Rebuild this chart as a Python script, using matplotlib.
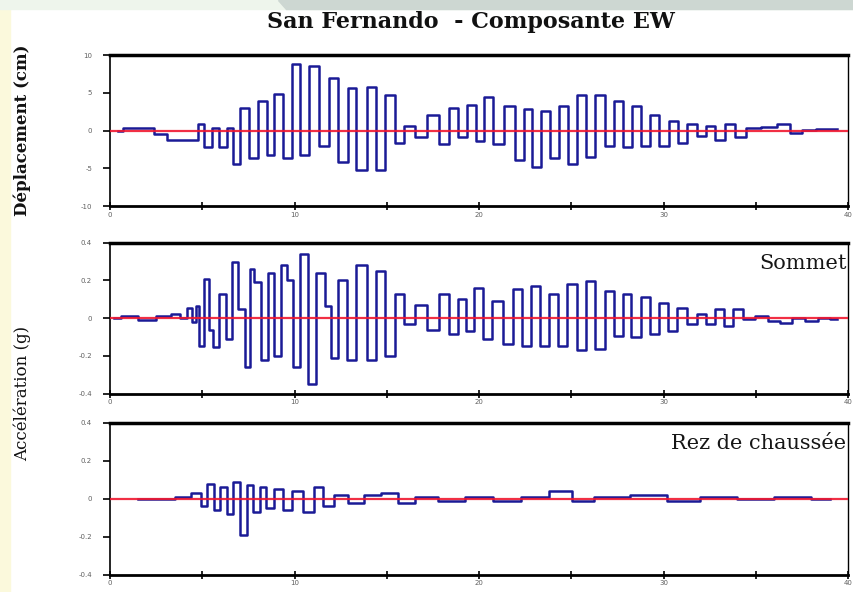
import matplotlib.pyplot as plt
from matplotlib.patches import Rectangle, Polygon

# San Fernando record, EW component: times (s) and values
t_disp = [0.4, 1.0, 2.0, 2.7, 3.5, 4.6, 4.9, 5.3, 5.7, 6.15, 6.5, 6.8, 7.3,
          7.75, 8.3, 8.7, 9.1, 9.6, 10.1, 10.5, 11.05, 11.6, 12.1, 12.65,
          13.1, 13.6, 14.2, 14.6, 15.15, 15.7, 16.2, 16.8, 17.6, 18.1, 18.6,
          19.1, 19.6, 20.05, 20.5, 21.0, 21.66, 22.2, 22.64, 23.1, 23.6,
          24.1, 24.6, 25.05, 25.6, 26.0, 26.6, 27.1, 27.5, 28.1, 28.5, 29.05,
          29.5, 30.0, 30.6, 31.0, 31.55, 32.1, 32.5, 33.1, 33.6, 34.1, 34.8,
          35.8, 36.5, 37.2, 37.8, 38.7, 39.4]
disp_cm = [0.0, 0.3, 0.3, -0.5, -1.2, -1.2, 0.8, -2.2, 0.4, -2.2, 0.4, -4.4,
           3.0, -3.7, 3.9, -3.3, 4.9, -3.7, 8.8, -3.3, 8.6, -2.0, 6.9, -4.2,
           5.6, -5.2, 5.8, -5.2, 4.7, -1.6, 0.6, -0.9, 2.1, -1.8, 3.0, -0.9,
           3.4, -1.4, 4.5, -1.8, 3.2, -3.9, 2.8, -4.8, 2.6, -3.7, 3.2, -4.4,
           4.7, -3.5, 4.7, -2.0, 3.9, -2.2, 3.2, -2.0, 2.1, -2.0, 1.3, -1.6,
           0.8, -0.7, 0.6, -1.3, 0.8, -0.9, 0.4, 0.5, 0.8, -0.3, 0.1, 0.2,
           0.2]

t_top = [0.2, 1.0, 2.0, 3.0, 3.6, 4.0, 4.3, 4.55, 4.75, 4.9, 5.25, 5.45,
         5.7, 6.15, 6.4, 6.8, 7.1, 7.5, 7.65, 7.9, 8.4, 8.7, 9.1, 9.45, 9.7,
         10.1, 10.5, 10.9, 11.4, 11.85, 12.1, 12.6, 13.1, 13.6, 14.2, 14.6,
         15.15, 15.7, 16.2, 16.85, 17.55, 18.1, 18.6, 19.1, 19.5, 19.9, 20.5,
         20.95, 21.6, 22.1, 22.55, 23.1, 23.5, 24.1, 24.5, 25.05, 25.6, 26.0,
         26.6, 27.1, 27.55, 28.0, 28.5, 29.05, 29.5, 30.0, 30.5, 31.0, 31.55,
         32.1, 32.5, 33.1, 33.5, 34.05, 34.6, 35.3, 36.0, 36.6, 37.3, 38.0,
         38.7, 39.4]
acc_top = [0.0, 0.01, -0.01, 0.01, 0.02, 0.0, 0.056, -0.02, 0.065, -0.145,
           0.21, -0.06, -0.154, 0.126, -0.11, 0.30, 0.05, -0.26, 0.26, 0.19,
           -0.22, 0.24, -0.20, 0.28, 0.205, -0.26, 0.34, -0.35, 0.24, 0.065,
           -0.21, 0.205, -0.22, 0.28, -0.22, 0.25, -0.20, 0.126, -0.03, 0.07,
           -0.06, 0.126, -0.084, 0.10, -0.067, 0.16, -0.11, 0.09, -0.137,
           0.153, -0.146, 0.17, -0.146, 0.126, -0.146, 0.18, -0.17, 0.196,
           -0.163, 0.144, -0.093, 0.126, -0.10, 0.11, -0.084, 0.082, -0.067,
           0.056, -0.03, 0.02, -0.03, 0.047, -0.04, 0.047, -0.005, 0.01,
           -0.014, -0.023, 0.0, -0.014, 0.0, -0.005]

t_ground = [1.5, 3.0, 4.0, 4.8, 5.1, 5.45, 5.8, 6.15, 6.5, 6.85, 7.2, 7.6,
            7.9, 8.3, 8.65, 9.1, 9.6, 10.15, 10.8, 11.3, 11.8, 12.5, 13.3,
            14.2, 15.2, 16.0, 17.0, 18.5, 20.0, 21.5, 23.0, 24.6, 25.5, 27.0,
            29.4, 31.0, 33.0, 35.0, 37.0, 39.0]
acc_ground = [0.0, 0.0, 0.01, 0.03, -0.04, 0.08, -0.06, 0.06, -0.08, 0.09,
              -0.19, 0.07, -0.07, 0.06, -0.05, 0.05, -0.06, 0.04, -0.07, 0.06,
              -0.04, 0.02, -0.02, 0.02, 0.03, -0.02, 0.01, -0.01, 0.01, -0.01,
              0.01, 0.04, -0.01, 0.01, 0.02, -0.01, 0.01, 0.0, 0.01, 0.0]

disp_ticks = [-10, -5, 0, 5, 10]
acc_ticks = [-0.4, -0.2, 0, 0.2, 0.4]
acc_labels = ['-0.4', '-0.2', '0', '0.2', '0.4']
time_ticks = [0, 10, 20, 30, 40]

TRACE = '#1a1a96'
ZERO = '#f01830'
TICK_GREY = '#606060'

fig = plt.figure(figsize=(8.54, 5.92), dpi=100)

# slide background bits around the scan
fig.add_artist(Rectangle((0, 0), 0.012, 1, transform=fig.transFigure,
                         color='#fbf9dc', zorder=0))
fig.add_artist(Rectangle((0, 0.985), 1, 0.015, transform=fig.transFigure,
                         color='#eef5ec', zorder=0))
fig.add_artist(Polygon([(0.325, 1), (1, 1), (1, 0.985), (0.335, 0.985)],
                       transform=fig.transFigure, color='#cdd7d2', zorder=0))


def style_axes(ax, ticks, labels):
    ax.set_xlim(0, 40)
    ax.set_ylim(ticks[0], ticks[-1])
    ax.set_yticks(ticks)
    ax.set_yticklabels(labels)
    ax.set_xticks(time_ticks)
    ax.set_xticks([5, 15, 25, 35], minor=True)
    ax.set_xticklabels([str(v) for v in time_ticks])
    ax.tick_params(axis='y', direction='out', length=5, width=1.2,
                   labelsize=5, labelcolor=TICK_GREY, pad=8)
    ax.tick_params(axis='x', which='both', direction='inout', length=6,
                   width=1.2, labelsize=5, labelcolor=TICK_GREY, pad=1)
    ax.spines['top'].set_linewidth(2.5)
    ax.spines['bottom'].set_linewidth(2.0)
    ax.spines['left'].set_linewidth(1.2)
    ax.spines['right'].set_linewidth(1.0)
    ax.axhline(0, color=ZERO, lw=1.6, zorder=3, alpha=0.9)


left, width = 0.129, 0.864
ax1 = fig.add_axes([left, 0.652, width, 0.255])
ax2 = fig.add_axes([left, 0.335, width, 0.255])
ax3 = fig.add_axes([left, 0.029, width, 0.257])

ax1.plot(t_disp, disp_cm, color=TRACE, lw=1.8, drawstyle='steps-mid')
style_axes(ax1, disp_ticks, [str(v) for v in disp_ticks])

ax2.plot(t_top, acc_top, color=TRACE, lw=1.8, drawstyle='steps-mid')
style_axes(ax2, acc_ticks, acc_labels)
ax2.text(0.998, 0.86, 'Sommet', transform=ax2.transAxes, ha='right',
         va='center', fontsize=15, family='DejaVu Serif', color='#161616')

ax3.plot(t_ground, acc_ground, color=TRACE, lw=1.8, drawstyle='steps-mid')
style_axes(ax3, acc_ticks, acc_labels)
ax3.text(0.998, 0.86, 'Rez de chaussée', transform=ax3.transAxes,
         ha='right', va='center', fontsize=15, family='DejaVu Serif',
         color='#161616')

fig.text(0.552, 0.962, 'San Fernando  - Composante EW', ha='center',
         va='center', fontsize=16, fontweight='bold', family='DejaVu Serif',
         color='#111111')
fig.text(0.026, 0.78, 'Déplacement (cm)', rotation=90, ha='center',
         va='center', fontsize=12, fontweight='bold', family='DejaVu Serif',
         color='#111111')
fig.text(0.026, 0.335, 'Accélération (g)', rotation=90, ha='center',
         va='center', fontsize=12, family='DejaVu Serif', color='#111111')

fig.savefig('out.png', dpi=100)
